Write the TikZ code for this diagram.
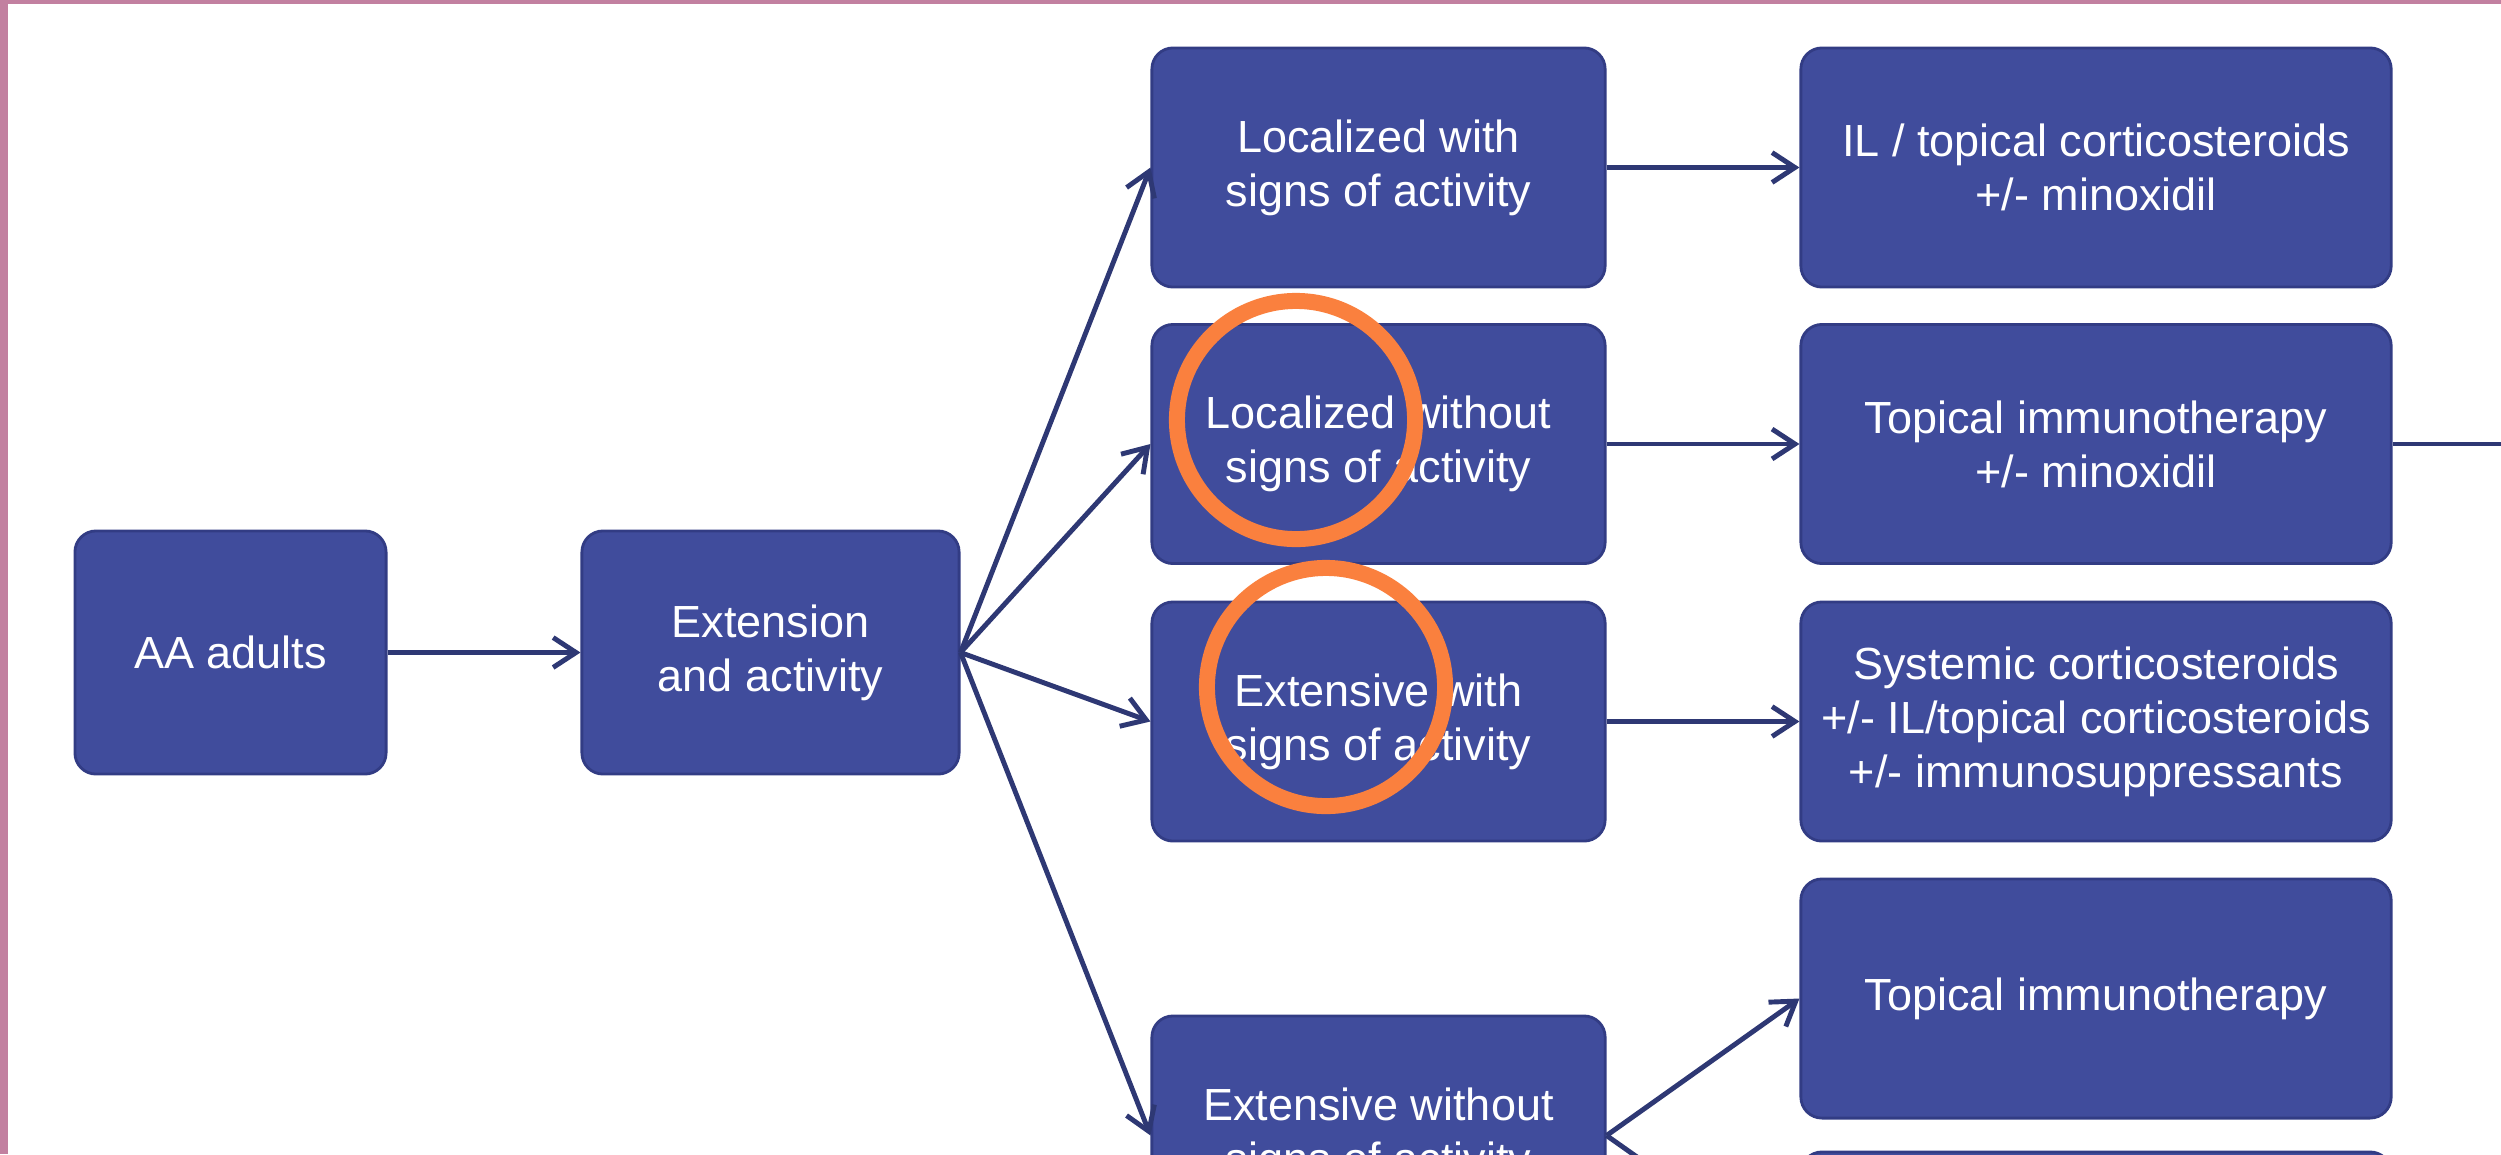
\documentclass[tikz,border=0pt]{standalone}
\usepackage{fontspec}
\setmainfont{Liberation Sans}
\usetikzlibrary{
		positioning,
		arrows.meta
	}
\definecolor{boxblue}{RGB}{64,76,156}
\definecolor{boxedge}{RGB}{50,60,132}
\definecolor{linkblue}{RGB}{46,56,116}
\definecolor{framepink}{RGB}{194,128,160}
\definecolor{ringorange}{RGB}{250,128,62}
\tikzset{
		>={Straight Barb[length=6.5pt,width=8.5pt]},
		box/.style={draw=boxedge, line width=0.8pt, fill=boxblue, rounded corners=6pt,
			text=white, align=center, inner sep=0pt,
			font=\fontsize{12.8}{15.4}\selectfont},
		firstbox/.style={box, minimum width=3.11cm, minimum height=2.43cm},
		splitbox/.style={box, minimum width=3.77cm, minimum height=2.43cm},
		midbox/.style={box, minimum width=4.53cm, minimum height=2.39cm},
		treatbox/.style={box, minimum width=5.9cm, minimum height=2.39cm},
		link/.style={draw=linkblue, line width=1.4pt},
		ring/.style={draw=ringorange, line width=0.16cm}
	}

\begin{document}
\begin{tikzpicture}[x=0.01cm, y=-0.01cm]
		\useasboundingbox (0,0) rectangle (2501,1154);
		\clip (0,0) rectangle (2501,1154);
		% Frame
		\fill[framepink] (0,0) rectangle (2501,4);
		\fill[framepink] (0,0) rectangle (8,1154);
		% Boxes
		\node[firstbox] (aa) at (230.5,652.5) {AA adults};
		\node[splitbox] (extact) at (770.5,652.5) {Extension\\and activity};
		\node[midbox] (locact) at (1378.5,167.5) {Localized with\\signs of activity};
		\node[midbox] (locno) at (1378.5,444) {Localized without\\signs of activity};
		\node[midbox] (extw) at (1378.5,721.5) {Extensive with\\signs of activity};
		\node[midbox] (extno) at (1378.5,1135.5) {Extensive without\\signs of activity};
		\node[treatbox] (iltop) at (2096,167.5) {IL / topical corticosteroids\\+/- minoxidil};
		\node[treatbox] (topimm) at (2096,444) {Topical immunotherapy\\+/- minoxidil};
		\node[treatbox] (syscort) at (2096,721.5) {Systemic corticosteroids\\+/- IL/topical corticosteroids\\+/- immunosuppressants};
		\node[treatbox] (topimmb) at (2096,998.5) {Topical immunotherapy};
		\node[treatbox] (nextbox) at (2096,1271.5) {};
		\coordinate (offpage) at (2501,444);
		% Arrows
		\draw[link, ->] (aa.east) -- (extact.west);
		\foreach \m in {locact, locno, extw, extno} {
			\draw[link, ->] (extact.east) -- (\m.west);
		}
		\foreach \a/\b in {locact/iltop, locno/topimm, extw/syscort, extno/topimmb, extno/nextbox} {
			\draw[link, ->] (\a.east) -- (\b.west);
		}
		\draw[link] (topimm.east) -- (offpage);
		% Rings
		\draw[ring] (1296,420) circle (1.19cm);
		\draw[ring] (1326,687) circle (1.19cm);
	\end{tikzpicture}
\end{document}
